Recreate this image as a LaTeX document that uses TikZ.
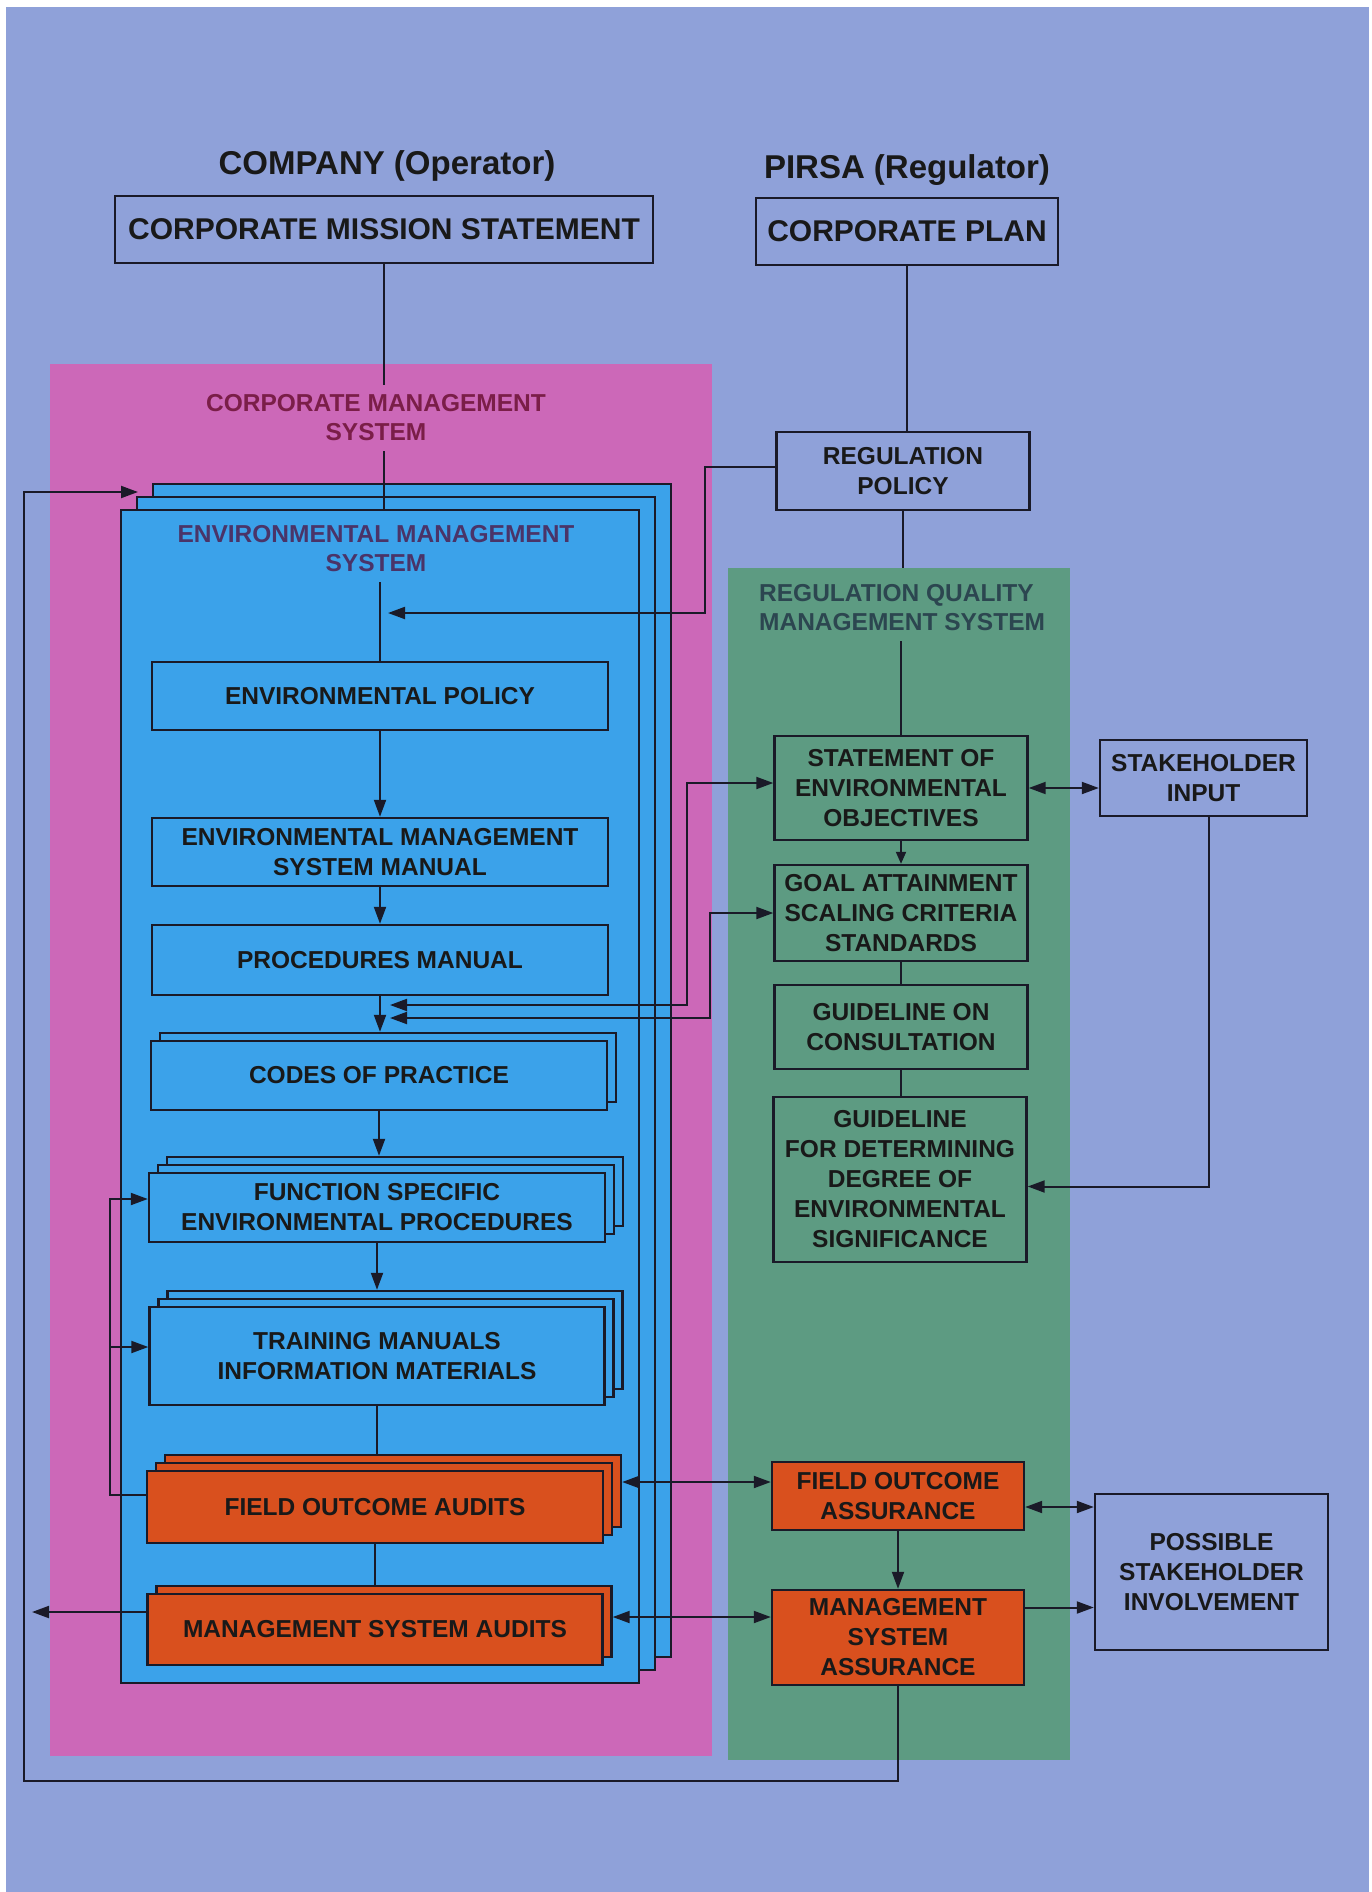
\documentclass[tikz,border=0pt]{standalone}
\usepackage{fontspec}
\setmainfont{Liberation Sans}
\usetikzlibrary{arrows.meta,shadows}
\definecolor{bgc}{HTML}{8FA1D9}
\definecolor{pinkc}{HTML}{CC68B8}
\definecolor{bluec}{HTML}{3BA2EA}
\definecolor{greenc}{HTML}{5D9B82}
\definecolor{orc}{HTML}{D9501E}
\definecolor{linec}{HTML}{1A1A28}
\definecolor{maroonc}{HTML}{7A1E48}
\definecolor{purpc}{HTML}{4A3468}
\definecolor{slatec}{HTML}{2C4650}
\tikzset{
  txt/.style={font=\bfseries\fontsize{24.5}{30}\selectfont, align=center, text=black!90, inner sep=0pt},
  hdr/.style={font=\bfseries\fontsize{33}{38}\selectfont, text=black!90, inner sep=0pt},
  lbl/.style={font=\bfseries\fontsize{24.5}{29}\selectfont, align=center, inner xsep=0pt, inner ysep=10pt},
  box/.style={txt, draw=linec, line width=2.4pt},
  bbox/.style={box, fill=bluec},
  gbox/.style={box, fill=greenc},
  obox/.style={box, fill=orc},
  bshadow/.style={copy shadow={shadow xshift=9pt, shadow yshift=8pt, fill=#1, draw=linec, line width=2.4pt}},
  bshadowtwo/.style={double copy shadow={shadow xshift=9pt, shadow yshift=8pt, fill=#1, draw=linec, line width=2.4pt}},
  conn/.style={draw=linec, line width=2pt},
  arr/.style={conn, -{Triangle[length=17pt,width=12pt]}},
  arrs/.style={conn, -{Triangle[length=12pt,width=10pt]}},
  darr/.style={conn, {Triangle[length=17pt,width=12pt]}-{Triangle[length=17pt,width=12pt]}},
  region/.style={inner sep=0pt, draw=none},
}
\begin{document}
\begin{tikzpicture}[x=1pt,y=-1pt]
\useasboundingbox (0,0) rectangle (1372,1892);
\fill[white] (0,0) rectangle (1372,1892);
\fill[bgc] (6,7) rectangle (1369,1892);

% regions
\node[region, fill=pinkc, minimum width=662pt, minimum height=1392pt] (pinkr) at (381,1060) {};
\node[region, fill=greenc, minimum width=342pt, minimum height=1192pt] (greenr) at (899,1164) {};
\node[region, fill=bluec, draw=linec, line width=1.6pt, minimum width=518pt, minimum height=1173pt,
  double copy shadow={shadow xshift=16pt, shadow yshift=13pt, fill=bluec, draw=linec, line width=1.6pt}] (ems) at (380,1096.5) {};

% headers
\node[hdr] (comp) at (387,166) {COMPANY (Operator)};
\node[hdr] (pirsa) at (907,170) {PIRSA (Regulator)};

% top boxes
\node[box, font=\bfseries\fontsize{30}{36}\selectfont, minimum width=538pt, minimum height=67pt] (cms) at (384,229.5) {CORPORATE MISSION STATEMENT};
\node[box, font=\bfseries\fontsize{30}{36}\selectfont, minimum width=302pt, minimum height=67pt] (cp) at (907,231.5) {CORPORATE PLAN};

% region labels
\node[lbl, text=maroonc] (cmsl) at (376,418) {CORPORATE MANAGEMENT\\SYSTEM};
\node[lbl, text=purpc] (emsl) at (376,549) {ENVIRONMENTAL MANAGEMENT\\SYSTEM};
\node[lbl, text=slatec, align=left, anchor=west] (rqmsl) at (759,608) {REGULATION QUALITY\\MANAGEMENT SYSTEM};

% left column
\node[bbox, minimum width=456pt, minimum height=68pt] (ep) at (380,696) {ENVIRONMENTAL POLICY};
\node[bbox, minimum width=456pt, minimum height=68pt] (emsm) at (380,852) {ENVIRONMENTAL MANAGEMENT\\SYSTEM MANUAL};
\node[bbox, minimum width=456pt, minimum height=70pt] (pm) at (380,960) {PROCEDURES MANUAL};
\node[bbox, bshadow=bluec, minimum width=456pt, minimum height=69pt] (cop) at (379,1075.5) {CODES OF PRACTICE};
\node[bbox, bshadowtwo=bluec, minimum width=456pt, minimum height=69pt] (fsep) at (377,1207.5) {FUNCTION SPECIFIC\\ENVIRONMENTAL PROCEDURES};
\node[bbox, bshadowtwo=bluec, minimum width=455pt, minimum height=98pt] (tm) at (377,1356) {TRAINING MANUALS\\INFORMATION MATERIALS};
\node[obox, bshadowtwo=orc, minimum width=456pt, minimum height=72pt] (foa) at (375,1507) {FIELD OUTCOME AUDITS};
\node[obox, bshadow=orc, minimum width=455pt, minimum height=71pt] (msa) at (375,1629.5) {MANAGEMENT SYSTEM AUDITS};

% right column
\node[box, minimum width=253pt, minimum height=78pt] (rp) at (903,471) {REGULATION\\POLICY};
\node[gbox, minimum width=253pt, minimum height=104pt] (seo) at (901,788) {STATEMENT OF\\ENVIRONMENTAL\\OBJECTIVES};
\node[gbox, minimum width=253pt, minimum height=96pt] (gas) at (901,913) {GOAL ATTAINMENT\\SCALING CRITERIA\\STANDARDS};
\node[gbox, minimum width=253pt, minimum height=84pt] (goc) at (901,1027) {GUIDELINE ON\\CONSULTATION};
\node[gbox, minimum width=253pt, minimum height=165pt] (gfd) at (900,1179.5) {GUIDELINE\\FOR DETERMINING\\DEGREE OF\\ENVIRONMENTAL\\SIGNIFICANCE};
\node[obox, minimum width=252pt, minimum height=68pt] (foas) at (898,1496) {FIELD OUTCOME\\ASSURANCE};
\node[obox, minimum width=252pt, minimum height=95pt] (msas) at (898,1637.5) {MANAGEMENT\\SYSTEM\\ASSURANCE};
\node[box, minimum width=207pt, minimum height=76pt] (si) at (1203.5,778) {STAKEHOLDER\\INPUT};
\node[box, minimum width=233pt, minimum height=156pt] (psi) at (1211.5,1572) {POSSIBLE\\STAKEHOLDER\\INVOLVEMENT};

% helper coordinates
\coordinate (copT) at ([yshift=8pt]cop.north);
\coordinate (fsepT) at ([yshift=16pt]fsep.north);
\coordinate (tmT) at ([yshift=16pt]tm.north);
\coordinate (foaT) at ([yshift=16pt]foa.north);
\coordinate (msaT) at ([yshift=8pt]msa.north);
\coordinate (rpB) at (705,613);
\coordinate (rpIn) at (388,613);
\coordinate (seoIn) at (390,1005);
\coordinate (gasIn) at (390,1018);
\coordinate (foaR) at ([xshift=18pt,yshift=25pt]foa.east);
\coordinate (msaR) at ([xshift=9pt,yshift=12.5pt]msa.east);
\coordinate (mw) at ([yshift=17.5pt]msa.west);
\coordinate (msaOut) at (32,1612);
\coordinate (fw) at ([yshift=12pt]foa.west);
\coordinate (fsepW) at ([yshift=8.5pt]fsep.west);
\coordinate (tmW) at ([yshift=9pt]tm.west);
\coordinate (fbB) at (24,1781);
\coordinate (fbT) at (24,492);
\coordinate (emsIn) at (138,492);
\coordinate (siS) at ([xshift=5pt]si.south);
\coordinate (foasE) at ([yshift=-11pt]foas.east);
\coordinate (msasE) at ([yshift=30pt]msas.east);

% left column connectors
\draw[conn] (cms.south) -- (cms.south |- cmsl.north);
\draw[conn] (cms.south |- cmsl.south) -- (cms.south |- ems.north);
\draw[conn] (ep.north |- emsl.south) -- (ep.north);
\draw[arr] (ep.south) -- (ep.south |- emsm.north);
\draw[arr] (emsm.south) -- (emsm.south |- pm.north);
\draw[arr] (pm.south) -- (pm.south |- copT);
\draw[arr] (cop.south) -- (cop.south |- fsepT);
\draw[arr] (fsep.south) -- (fsep.south |- tmT);
\draw[conn] (tm.south) -- (tm.south |- foaT);
\draw[conn] (foa.south) -- (foa.south |- msaT);

% right column connectors
\draw[conn] (cp.south) -- (cp.south |- rp.north);
\draw[conn] (rp.south) -- (rp.south |- greenr.north);
\draw[conn] (seo.north |- rqmsl.south) -- (seo.north);
\draw[arrs] (seo.south) -- (seo.south |- gas.north);
\draw[conn] (gas.south) -- (gas.south |- goc.north);
\draw[conn] (goc.south) -- (goc.south |- gfd.north);
\draw[arr] (foas.south) -- (foas.south |- msas.north);

% cross links
\draw[arr] ([yshift=4pt]rp.west) -| (rpB) -- (rpIn);
\draw[darr] (seoIn) -| ([xshift=-86pt,yshift=5pt]seo.west) -- ([yshift=5pt]seo.west);
\draw[darr] (gasIn) -| ([xshift=-63pt]gas.west) -- (gas.west);
\draw[darr] (seo.east) -- (seo.east -| si.west);
\draw[arr] (siS) |- ([yshift=-7pt]gfd.east);
\draw[darr] (foaR) -- (foaR -| foas.west);
\draw[darr] (msaR) -- (msaR -| msas.west);
\draw[darr] (foasE) -- (foasE -| psi.west);
\draw[arr] (msasE) -- (msasE -| psi.west);
\draw[arr] (mw) -- (msaOut);
\draw[arr] (fw) -| ([xshift=-38pt]fsepW) -- (fsepW);
\draw[arr] ([xshift=-38pt]tmW) -- (tmW);
\draw[arr] (msas.south) |- (fbB) -- (fbT) -- (emsIn);
\end{tikzpicture}
\end{document}
